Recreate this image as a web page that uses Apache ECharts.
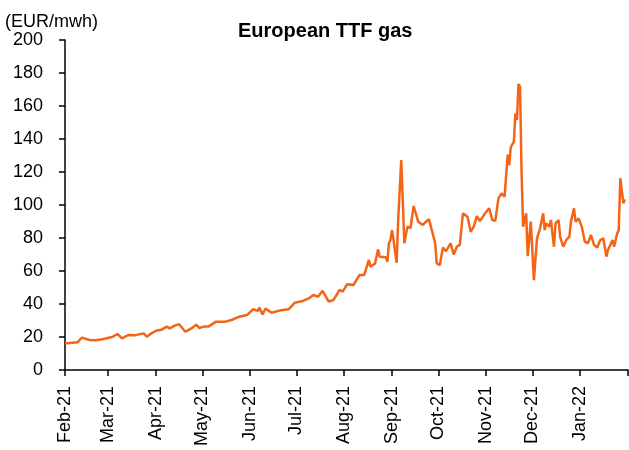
<!DOCTYPE html>
<html>
<head>
<meta charset="utf-8">
<script src="https://cdn.jsdelivr.net/npm/echarts@6/dist/echarts.min.js"></script>
<style>
  html, body { margin: 0; padding: 0; background: #fff; }
  #chart { width: 629px; height: 450px; }
</style>
</head>
<body>
<div id="chart"></div>
<script>
const chartTitle = 'European TTF gas';
const unitLabel = '(EUR/mwh)';
const monthLabels = ['Feb-21','Mar-21','Apr-21','May-21','Jun-21','Jul-21','Aug-21','Sep-21','Oct-21','Nov-21','Dec-21','Jan-22'];
const yTicks = [0, 20, 40, 60, 80, 100, 120, 140, 160, 180, 200];

const dates = [
  '2021-02-01','2021-02-09','2021-02-12','2021-02-17','2021-02-21','2021-02-25','2021-02-28',
  '2021-03-04','2021-03-07','2021-03-10','2021-03-14','2021-03-18','2021-03-24','2021-03-26','2021-03-29',
  '2021-04-01','2021-04-05','2021-04-08','2021-04-10','2021-04-13','2021-04-16','2021-04-20','2021-04-24','2021-04-27','2021-04-29',
  '2021-05-02','2021-05-05','2021-05-10','2021-05-16','2021-05-20','2021-05-25','2021-05-30',
  '2021-06-03','2021-06-06','2021-06-07','2021-06-09','2021-06-11','2021-06-15','2021-06-20','2021-06-21','2021-06-26','2021-06-30',
  '2021-07-05','2021-07-09','2021-07-12','2021-07-15','2021-07-18','2021-07-22','2021-07-25','2021-07-29','2021-07-31',
  '2021-08-02','2021-08-03','2021-08-07','2021-08-11','2021-08-14','2021-08-17','2021-08-18','2021-08-21','2021-08-23','2021-08-24','2021-08-28','2021-08-29','2021-08-30','2021-08-31',
  '2021-09-01','2021-09-02','2021-09-04','2021-09-05','2021-09-07','2021-09-09','2021-09-11','2021-09-13','2021-09-15','2021-09-18','2021-09-21','2021-09-23','2021-09-25','2021-09-29','2021-09-30',
  '2021-10-02','2021-10-04','2021-10-06','2021-10-09','2021-10-11','2021-10-13','2021-10-15','2021-10-17','2021-10-20','2021-10-22','2021-10-24','2021-10-26','2021-10-28','2021-10-31',
  '2021-11-03','2021-11-05','2021-11-07','2021-11-09','2021-11-11','2021-11-13','2021-11-15','2021-11-16','2021-11-17','2021-11-19','2021-11-20','2021-11-21','2021-11-22','2021-11-23','2021-11-24','2021-11-25','2021-11-27','2021-11-28','2021-11-30',
  '2021-12-02','2021-12-03','2021-12-04','2021-12-06','2021-12-08','2021-12-09','2021-12-10','2021-12-12','2021-12-13','2021-12-15','2021-12-16','2021-12-18','2021-12-19','2021-12-21','2021-12-23','2021-12-25','2021-12-26','2021-12-28','2021-12-29','2021-12-31',
  '2022-01-02','2022-01-04','2022-01-06','2022-01-08','2022-01-09','2022-01-10','2022-01-12','2022-01-14','2022-01-16','2022-01-18','2022-01-19','2022-01-20','2022-01-22','2022-01-23','2022-01-25','2022-01-26','2022-01-27','2022-01-29','2022-01-30'
];

const prices = [
  16.0, 16.8, 19.6, 18.2, 18.0, 18.6, 19.2,
  20.2, 21.8, 19.2, 21.2, 21.0, 22.2, 20.2, 22.2,
  23.8, 24.6, 26.3, 25.2, 26.9, 27.7, 23.2, 25.2, 27.5, 25.5,
  26.3, 26.3, 29.3, 29.3, 30.3, 32.3, 33.3,
  36.8, 35.8, 37.8, 33.7, 37.2, 34.7, 36.0, 35.2, 36.8, 40.8,
  41.8, 43.4, 45.5, 44.4, 48.0, 41.4, 42.4, 48.5, 47.5,
  50.5, 52.0, 51.5, 57.6, 57.6, 66.7, 62.6, 64.6, 73.1, 68.7, 68.3, 65.6, 76.8, 78.8,
  84.8, 78.8, 65.0, 91.0, 127.3, 76.8, 86.9, 85.9, 99.4, 89.9, 87.9, 89.9, 91.3, 76.8, 64.6,
  63.6, 74.2, 72.0, 76.8, 70.0, 74.7, 76.0, 95.0, 92.7, 83.8, 86.9, 93.3, 90.2, 94.5,
  98.0, 90.9, 90.5, 104.0, 107.0, 105.0, 130.5, 124.0, 135.0, 138.4, 155.6, 151.5, 173.3, 171.7, 120.0, 86.9, 95.0, 69.0, 89.9,
  54.5, 55.0, 79.8, 85.9, 95.0, 84.8, 88.9, 86.9, 90.9, 74.7, 88.9, 90.9, 80.8, 74.7, 78.8, 80.8, 89.9, 98.0, 89.9, 91.9,
  86.9, 77.8, 76.8, 81.8, 81.8, 75.8, 74.3, 78.8, 79.8, 68.7, 72.7, 73.7, 78.8, 74.7, 82.8, 84.8, 116.2, 101.0, 103.4
];

const FONT = "'Liberation Sans', Arial, sans-serif";
const chart = echarts.init(document.getElementById('chart'), null, { renderer: 'canvas' });

chart.setOption({
  animation: false,
  backgroundColor: '#ffffff',
  title: [
    {
      text: chartTitle,
      left: 233,
      top: 16,
      textStyle: { fontFamily: FONT, fontSize: 20, fontWeight: 'bold', color: '#000' }
    },
    {
      text: unitLabel,
      left: 0,
      top: 8,
      textStyle: { fontFamily: FONT, fontSize: 18, fontWeight: 'normal', color: '#000' }
    }
  ],
  grid: { left: 65, right: 1, top: 40, bottom: 80, containLabel: false },
  xAxis: {
    type: 'time',
    min: '2021-02-01',
    max: '2022-02-01',
    splitNumber: 12,
    minInterval: 28 * 86400000,
    maxInterval: 31 * 86400000,
    axisLine: { show: true, lineStyle: { color: '#000', width: 1.5 } },
    axisTick: { show: true, inside: false, length: 6, lineStyle: { color: '#000', width: 1.5 } },
    splitLine: { show: false },
    axisLabel: {
      rotate: 90,
      margin: 16,
      fontFamily: FONT,
      fontSize: 18,
      color: '#000',
      showMaxLabel: false,
      hideOverlap: false,
      formatter: function (value) {
        const d = new Date(value);
        const idx = (d.getFullYear() - 2021) * 12 + d.getMonth() - 1;
        return monthLabels[idx] || '';
      }
    }
  },
  yAxis: {
    type: 'value',
    min: yTicks[0],
    max: yTicks[yTicks.length - 1],
    interval: yTicks[1] - yTicks[0],
    axisLine: { show: true, lineStyle: { color: '#000', width: 1.5 } },
    axisTick: { show: true, inside: false, length: 6, lineStyle: { color: '#000', width: 1.5 } },
    splitLine: { show: false },
    axisLabel: { fontFamily: FONT, fontSize: 18, color: '#000', margin: 22 }
  },
  series: [{
    type: 'line',
    data: dates.map((d, i) => [d, prices[i]]),
    showSymbol: false,
    symbol: 'none',
    lineStyle: { color: '#F46417', width: 2.5 },
    itemStyle: { color: '#F46417' }
  }]
});
</script>
</body>
</html>
